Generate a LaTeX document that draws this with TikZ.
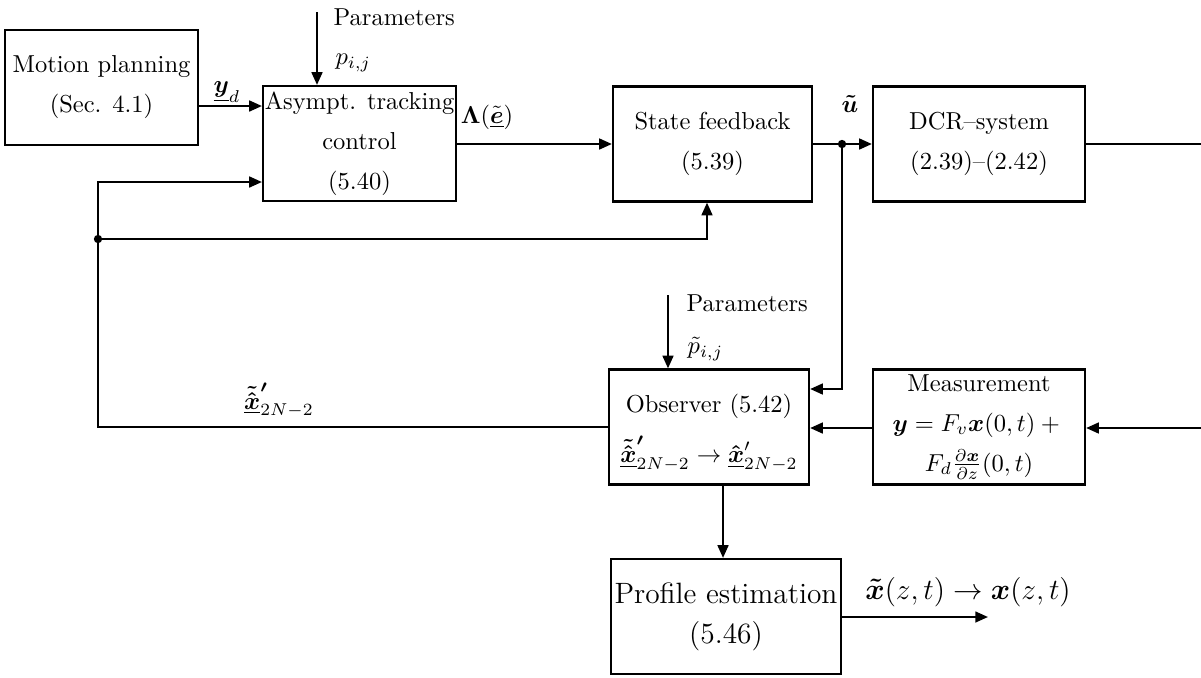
\documentclass[tikz,border=0pt]{standalone}
\usepackage{amsmath,amssymb}
\usetikzlibrary{arrows.meta}

\begin{document}
\begin{tikzpicture}[x=0.408pt,y=-0.408pt,
  font=\fontsize{10}{16.3}\selectfont,
  blockbox/.style={draw, line width=0.9pt, inner sep=0pt, align=center, minimum height=46.9pt},
  sig/.style={line width=0.9pt, -{Triangle[length=5.2pt,width=4.4pt]}},
  wire/.style={line width=0.9pt},
  junction/.style={circle, fill, inner sep=0pt, minimum size=3.4pt}]
\useasboundingbox (0,0) rectangle (1201,677);

% blocks
\node[blockbox, minimum width=78.7pt] (mp)   at (101.5,87.5) {Motion planning\\(Sec. 4.1)};
\node[blockbox, minimum width=78.7pt] (atc)  at (359.5,143.5) {Asympt. tracking\\control\\(5.40)};
\node[blockbox, minimum width=81.2pt] (sf)   at (712.5,144) {State feedback\\(5.39)};
\node[blockbox, minimum width=86.5pt] (dcr)  at (979,144) {DCR--system\\(2.39)--(2.42)};
\node[blockbox, minimum width=81.6pt] (obs)  at (709,427)
  {\rule{0pt}{12pt}Observer (5.42)\\[4.3pt]
   $\boldsymbol{\tilde{\hat{\underline{x}}}}^{\boldsymbol{\prime}}_{2N-2}\rightarrow\boldsymbol{\hat{\underline{x}}}'_{2N-2}$};
\node[blockbox, minimum width=86.5pt] (meas) at (979,427)
  {Measurement\\$\boldsymbol{y}=F_v\boldsymbol{x}(0,t)+{}$\\$F_d\frac{\partial\boldsymbol{x}}{\partial z}(0,t)$};
\node[blockbox, minimum width=93.8pt, font=\fontsize{12}{16.3}\selectfont] (prof) at (726,616.5)
  {Profile estimation\\(5.46)};

% free ends and junctions
\coordinate (parA) at (317,12);
\coordinate (parB) at (668,295);
\coordinate (sysout) at (1201,144);
\coordinate (measin) at (1201,428);
\coordinate (profout) at (988,617);
\node[junction] (ju) at (842,144) {};
\node[junction] (jx) at (98,239) {};

% forward path
\draw[sig] (mp.east |- 0,106) -- (atc.west |- 0,106);
\draw[sig] (parA) -- (atc.north -| parA);
\draw[sig] (atc.east |- 0,144) -- (sf.west |- 0,144);
\draw[sig] (sf.east |- 0,144) -- (dcr.west |- 0,144);
\draw[wire] (dcr.east |- 0,144) -- (sysout);

% observer branch
\draw[sig] (ju.center) -- (842,389) -- (obs.east |- 0,389);
\draw[sig] (measin) -- (meas.east |- measin);
\draw[sig] (meas.west |- measin) -- (obs.east |- measin);
\draw[sig] (parB) -- (obs.north -| parB);
\draw[sig] (obs.south -| 723,0) -- (prof.north -| 723,0);
\draw[sig] (prof.east |- profout) -- (profout);

% estimated state fed back
\draw[sig] (obs.west |- 0,427) -- (98,427) -- (98,182) -- (atc.west |- 0,182);
\draw[sig] (jx.center) -- (707,239) -- (sf.south -| 707,0);

% labels
\node at (227,92) {$\underline{\boldsymbol{y}}_d$};
\node[anchor=west] at (325,17) {Parameters};
\node[anchor=west] at (327,63) {$p_{i,j}$};
\node at (487,117) {$\boldsymbol{\Lambda}(\tilde{\underline{\boldsymbol{e}}})$};
\node at (850,104) {$\boldsymbol{\tilde{u}}$};
\node at (279,400) {$\boldsymbol{\tilde{\hat{\underline{x}}}}^{\boldsymbol{\prime}}_{2N-2}$};
\node[anchor=west] at (678,303) {Parameters};
\node[anchor=west] at (679,349) {$\tilde{p}_{i,j}$};
\node[font=\fontsize{12}{14}\selectfont] at (968,592) {$\boldsymbol{\tilde{x}}(z,t)\rightarrow\boldsymbol{x}(z,t)$};
\end{tikzpicture}
\end{document}
